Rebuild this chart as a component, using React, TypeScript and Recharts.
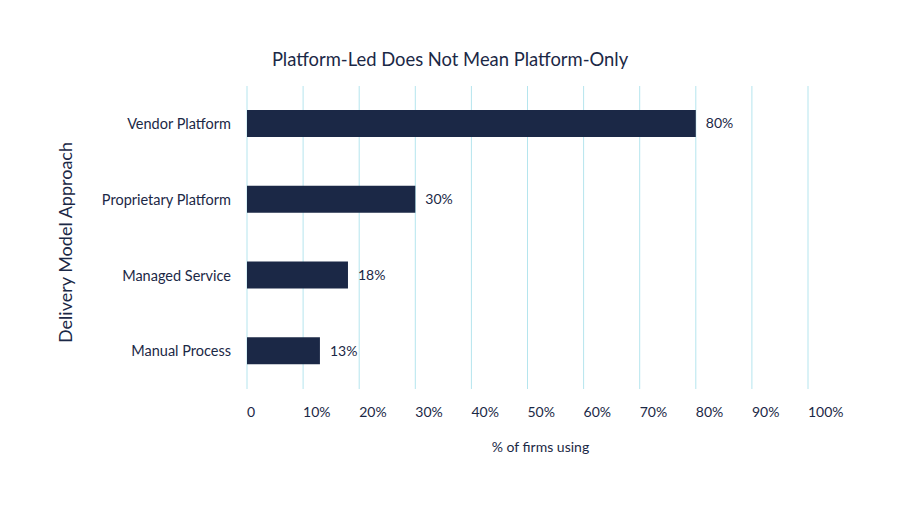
import React from "react";
import { BarChart, Bar, XAxis, YAxis, CartesianGrid, LabelList } from "recharts";

const categories = ["Vendor Platform", "Proprietary Platform", "Managed Service", "Manual Process"];
const firmsUsing = [80, 30, 18, 13];
const xTicks = [0, 10, 20, 30, 40, 50, 60, 70, 80, 90, 100];

const data = categories.map((name, i) => ({ name, value: firmsUsing[i] }));

const NAVY = "#1b2846";
const FONT = "Lato, 'Noto Sans', sans-serif";

function XTick(props: any) {
  const { x, y, payload } = props;
  return (
    <text x={x} y={y + 20} textAnchor="start" fill={NAVY} fontSize={14} fontFamily={FONT}>
      {payload.value === 0 ? "0" : `${payload.value}%`}
    </text>
  );
}

export default function App() {
  return (
    <div style={{ position: "absolute", left: 0, top: 0, width: 900, height: 506, background: "#fff", fontFamily: FONT }}>
      <div
        style={{
          position: "absolute",
          top: 48,
          left: 0,
          width: 900,
          textAlign: "center",
          fontSize: 18.4,
          color: NAVY,
        }}
      >
        Platform-Led Does Not Mean Platform-Only
      </div>
      <BarChart
        width={900}
        height={506}
        data={data}
        layout="vertical"
        margin={{ top: 86, right: 92, bottom: 0, left: 0 }}
        barCategoryGap={24}
      >
        <CartesianGrid horizontal={false} stroke="#b5e5ee" />
        <XAxis
          type="number"
          domain={[0, 100]}
          ticks={xTicks}
          axisLine={false}
          tickLine={false}
          height={117}
          tick={<XTick />}
          label={{
            content: ({ viewBox }: any) => (
              <text
                x={viewBox.x + viewBox.width / 2 + 13}
                y={viewBox.y + 63}
                textAnchor="middle"
                fill={NAVY}
                fontSize={14}
                fontFamily={FONT}
              >
                % of firms using
              </text>
            ),
          }}
        />
        <YAxis
          type="category"
          dataKey="name"
          width={247}
          axisLine={false}
          tickLine={false}
          tickMargin={10}
          tick={{ fill: NAVY, fontSize: 14.5, fontFamily: FONT }}
          label={{
            content: ({ viewBox }: any) => {
              const cx = 72;
              const cy = viewBox.y + viewBox.height / 2 + 5;
              return (
                <text
                  x={cx}
                  y={cy}
                  transform={`rotate(-90 ${cx} ${cy})`}
                  textAnchor="middle"
                  fill={NAVY}
                  fontSize={18}
                  fontFamily={FONT}
                >
                  Delivery Model Approach
                </text>
              );
            },
          }}
        />
        <Bar dataKey="value" fill={NAVY} barSize={27} isAnimationActive={false}>
          <LabelList
            dataKey="value"
            position="right"
            offset={10}
            formatter={(v: any) => `${v}%`}
            fill={NAVY}
            fontSize={14}
            fontFamily={FONT}
          />
        </Bar>
      </BarChart>
    </div>
  );
}
